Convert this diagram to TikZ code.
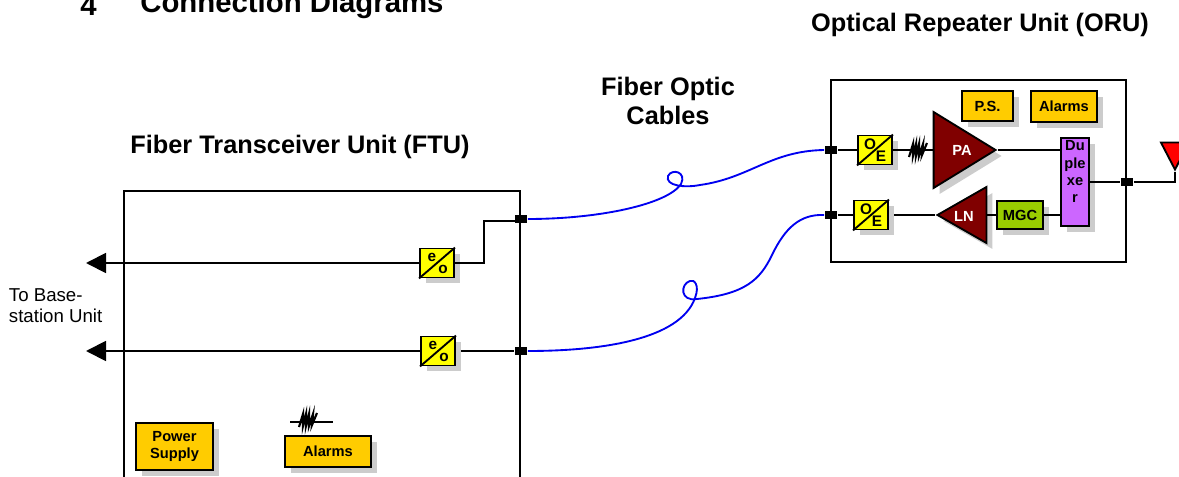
\documentclass[tikz,border=0pt]{standalone}
\usepackage{fontspec}
\setmainfont{Liberation Sans}
\usetikzlibrary{arrows.meta, shapes.geometric, shadows}
\definecolor{cgold}{HTML}{FFCC00}
\definecolor{cyel}{HTML}{FFFF00}
\definecolor{cgreen}{HTML}{99CC00}
\definecolor{cpurple}{HTML}{CC66FF}
\definecolor{cmaroon}{HTML}{800000}
\definecolor{cblue}{HTML}{0000F0}
\tikzset{
  every picture/.style={line width=1.4pt},
  sz/.style 2 args={minimum width=#1*0.75pt, minimum height=#2*0.75pt},
  shade/.style={drop shadow={shadow xshift=4.5pt, shadow yshift=-4.5pt, fill=black!20, opacity=1}},
  box/.style={draw=black, fill=#1, shade, inner sep=0pt, align=center, font=\fontsize{11}{13}\selectfont\bfseries},
  box/.default=cgold,
  frame/.style={draw=black, inner sep=0pt},
  port/.style={fill=black, inner sep=0pt, sz={12}{8}},
  amp/.style={draw=black, fill=cmaroon, shade, isosceles triangle, isosceles triangle stretches, inner sep=0pt},
  amptxt/.style={inner sep=0pt, text=white, font=\fontsize{11}{13}\selectfont\bfseries},
  conv/.style={inner sep=0pt, font=\fontsize{11.5}{14}\selectfont\bfseries},
  title/.style={font=\fontsize{19}{23}\selectfont\bfseries, align=center},
  head/.style={anchor=west, font=\fontsize{22}{26}\selectfont\bfseries},
  arrow/.style={-{Triangle[length=15pt, width=15pt]}},
  fiber/.style={draw=cblue, line width=1.4pt},
}
\newcommand{\squig}[2]{\draw[line width=1.6pt] (#1,#2) ++(-9,7) -- ++(4,-13) -- ++(0,12) -- ++(3,-12) -- ++(0,12) -- ++(3,-12) -- ++(0,12) -- ++(4,-12) -- ++(-1,11) -- ++(5,-12);}

\begin{document}
\begin{tikzpicture}[x=0.75pt, y=-0.75pt]
  \useasboundingbox (0,0) rectangle (1179,477);
  \clip (0,0) rectangle (1179,477);
  % headings
  \node[head] (num) at (75,5) {4};
  \node[head] (heading) at (135,5) {Connection Diagrams};
  \node[title] (oru) at (980,25) {Optical Repeater Unit (ORU)};
  \node[title] (ftu) at (300,147) {Fiber Transceiver Unit (FTU)};
  \node[title, font=\fontsize{19}{22}\selectfont\bfseries] (cables) at (668,101) {Fiber Optic\\[0pt]Cables};
  \node[align=left, anchor=west, inner sep=0pt, font=\fontsize{14}{15.8}\selectfont] (base) at (8,306) {To Base-\\station Unit};
  % enclosures
  \node[frame, sz={396}{370}] (ftubox) at (322,376) {};
  \node[frame, sz={295}{182}] (orubox) at (978.5,171) {};
  % boxes
  \node[box, sz={51}{30}] (ps) at (987.5,106) {P.S.};
  \node[box, sz={66}{31}] (alarmO) at (1064,106.5) {Alarms};
  \node[box=cgreen, sz={46}{28}] (mgc) at (1020,215) {MGC};
  \node[box=cpurple, sz={28}{88}, anchor=north] (dup) at (1075,137) {};
  \node[inner sep=0pt, anchor=north, align=center, yshift=-2pt, font=\fontsize{11}{13}\selectfont\bfseries] (duptxt) at (dup.north) {Du\\ple\\xe\\r};
  \node[box, sz={77}{47}] (power) at (174.5,446.5) {Power\\Supply};
  \node[box, sz={86}{31}] (alarmF) at (328,451.5) {Alarms};
  % ports on the enclosures
  \node[port] (portFT) at (521,219) {};
  \node[port] (portFB) at (521,351) {};
  \node[port] (portOT) at (831,150) {};
  \node[port] (portOB) at (831,215) {};
  \node[port] (portOA) at (dup.east -| orubox.east) {};
  % converters
  \foreach \n/\x/\y/\a/\b in {eoT/437/263/e/o, eoB/438/351/e/o, oeT/875/150/O/E, oeB/871/215/O/E}{
    \node[box=cyel, sz={34}{29}] (\n) at (\x,\y) {};
    \draw (\n.south west) -- (\n.north east);
    \node[conv] (\n a) at (\x-5,\y-6) {\a};
    \node[conv] (\n b) at (\x+6,\y+6) {\b};
  }
  % amplifiers
  \node[amp, sz={76}{62}, anchor=apex] (pa) at (998,150) {};
  \node[amptxt] (patxt) at (962,150) {PA};
  \node[amp, sz={56}{49}, shape border rotate=180, anchor=apex] (ln) at (935,215) {};
  \node[amptxt] (lntxt) at (964,216) {LN};
  % antenna
  \node[draw=black, fill=red, isosceles triangle, isosceles triangle stretches, inner sep=0pt, sz={28}{27},
    shape border rotate=-90, anchor=apex] (ant) at (1175,172) {};
  % connectors
  \coordinate (arrT) at (86,263);
  \coordinate (arrB) at (86,351);
  \coordinate (elbow) at (484,221);
  \coordinate (alarmL) at (290,422);
  \coordinate (alarmR) at (333,422);
  \draw[arrow] (eoT.west) -- (arrT);
  \draw[arrow] (eoB.west) -- (arrB);
  \draw (eoT.east) -| (elbow) -- (elbow -| portFT.center);
  \draw[shorten <=4pt] (eoB.east) -- (portFB);
  \draw (portOT) -- (oeT.west);
  \draw (portOB) -- (oeB.west);
  \draw (oeT.east) -- (oeT.east -| pa.lower side);
  \draw[shorten <=4pt] (oeB.east) -- (ln.apex);
  \draw (pa.apex) -- (pa.apex -| dup.west);
  \draw (ln.lower side) -- (mgc.west);
  \draw (mgc.east) -- (mgc.east -| dup.west);
  \draw (dup.east) -- (portOA);
  \draw (portOA) -| (ant.apex);
  \draw (alarmL) -- (alarmR);
  \squig{918}{150}
  \squig{308}{420}
  % fibers
  \draw[fiber] (portFT.east) .. controls (600,219) and (668,204) .. (681,184)
    .. controls (687,172) and (672,168) .. (668,176)
    .. controls (665,186) and (685,188) .. (700,185)
    .. controls (750,178) and (770,151) .. (portOT.west);
  \draw[fiber] (portFB.east) .. controls (600,351) and (680,340) .. (695,298)
    .. controls (700,285) and (694,279) .. (690,281)
    .. controls (680,284) and (680,302) .. (697,299)
    .. controls (745,294) and (760,280) .. (772,255)
    .. controls (785,228) and (800,214) .. (portOB.west);
\end{tikzpicture}
\end{document}
